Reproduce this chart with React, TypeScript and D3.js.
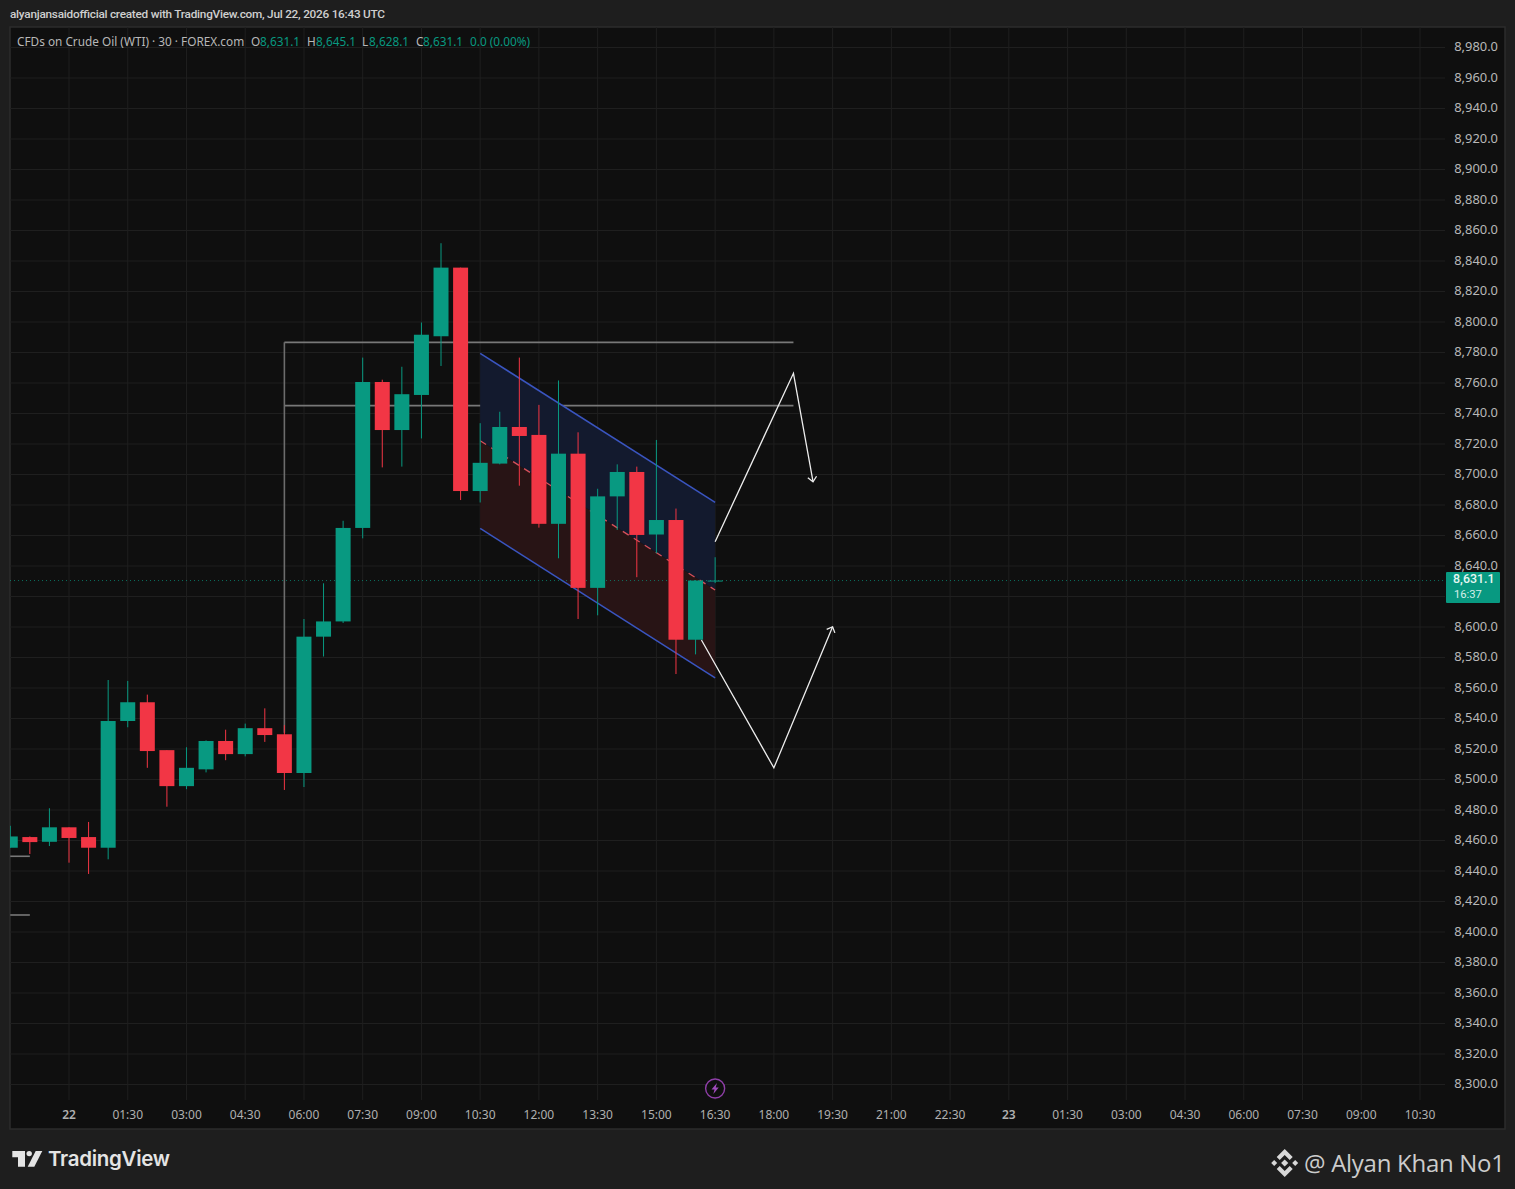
import React, { useEffect, useRef } from "react";
import * as d3 from "d3";

// bars are numbered from the "22" tick (00:00), one bar = 30 minutes
const firstBar = -3;
const opens = [8454.6, 8461.6, 8458.5, 8468, 8461.6, 8454.6, 8537.7, 8550, 8518.6, 8495, 8506, 8524.6, 8516, 8533, 8529, 8503.6, 8593, 8603, 8664.3, 8760, 8728.5, 8751.5, 8790, 8835, 8688.5, 8706.5, 8730.5, 8725.3, 8667, 8713, 8625, 8685, 8701, 8660, 8669.5, 8591, 8629.8];
const closes = [8462, 8458.3, 8468, 8461, 8454.6, 8537.7, 8550, 8518, 8495, 8507, 8524.6, 8516, 8533, 8528.5, 8503.6, 8593, 8603, 8664.3, 8760, 8728.5, 8752, 8791, 8835, 8688.5, 8707, 8730.5, 8724.6, 8667, 8713, 8625, 8685, 8701, 8659.7, 8669.5, 8591, 8629.8, 8629.8];
const highs = [8469, 8462, 8480.5, 8468, 8471.5, 8564.6, 8564, 8555, 8518.6, 8520.5, 8525, 8532, 8536, 8546, 8535, 8604.6, 8628, 8669, 8776, 8761.5, 8770, 8799, 8851, 8835, 8733, 8740.5, 8776, 8745, 8761, 8727, 8690, 8706, 8704.5, 8722, 8677, 8630, 8645.1];
const lows = [8454.6, 8450.5, 8455.7, 8444.8, 8437.4, 8447, 8533.6, 8507, 8481.5, 8493, 8504, 8512, 8514.5, 8524, 8492.5, 8494.4, 8580, 8602, 8657.5, 8704, 8704.5, 8723, 8770.5, 8682.6, 8681, 8706, 8692, 8664.5, 8644.4, 8604.6, 8607, 8663, 8632, 8647.7, 8568.5, 8581.4, 8628.1];

const priceTicks = d3.range(8300, 8981, 20);
const timeLabels = ["22", "01:30", "03:00", "04:30", "06:00", "07:30", "09:00", "10:30", "12:00", "13:30", "15:00", "16:30", "18:00", "19:30", "21:00", "22:30", "23", "01:30", "03:00", "04:30", "06:00", "07:30", "09:00", "10:30"];

const lastPrice = 8629.8;

// drawings, as [bar, price]
const levelTop = 8786;
const levelMid = 8744.5;
const levelStartBar = 11;
const levelEndBar = 37;
const verticalBar = 11;
const verticalFrom = 8786;
const verticalTo = 8530;
const stubLevels = [8449, 8410.5];
const channelUpper: [number, number][] = [[21, 8778.8], [33, 8681]];
const channelMiddle: [number, number][] = [[21, 8721.5], [33, 8623.6]];
const channelLower: [number, number][] = [[21, 8664], [33, 8566]];
const pathUp: [number, number][] = [[33, 8655.3], [37, 8765.7], [38, 8694.6]];
const pathDown: [number, number][] = [[32.3, 8590.8], [36, 8507], [39, 8599.5]];

const green = "#089981";
const red = "#f23645";
const font = "'Noto Sans', sans-serif";

export default function App() {
  const ref = useRef<SVGSVGElement>(null);

  useEffect(() => {
    const width = 1515;
    const height = 1189;
    const pane = { left: 10, top: 27, right: 1505, bottom: 1129 };
    const axisLeft = 1445;
    const axisTop = 1100;

    const x = d3.scaleLinear().domain([0, 69]).range([69, 1420]);
    const y = d3.scaleLinear().domain([8300, 8980]).range([1083.5, 46.5]);
    const line = d3
      .line<[number, number]>()
      .x((d) => x(d[0]))
      .y((d) => y(d[1]));

    const svg = d3.select(ref.current);
    svg.selectAll("*").remove();

    svg.append("rect").attr("width", width).attr("height", height).attr("fill", "#1e1e1e");
    svg
      .append("rect")
      .attr("x", pane.left)
      .attr("y", pane.top)
      .attr("width", pane.right - pane.left)
      .attr("height", pane.bottom - pane.top)
      .attr("fill", "#0f0f0f")
      .attr("stroke", "#2c2c2c")
      .attr("stroke-width", 1.5);

    svg
      .append("clipPath")
      .attr("id", "pane-clip")
      .append("rect")
      .attr("x", pane.left)
      .attr("y", pane.top)
      .attr("width", pane.right - pane.left)
      .attr("height", pane.bottom - pane.top);

    // grid, sits a pixel under the label centres
    const grid = svg.append("g").attr("stroke", "#1f1f1f").attr("stroke-width", 1);
    grid
      .selectAll("line.h")
      .data(priceTicks)
      .join("line")
      .attr("class", "h")
      .attr("x1", pane.left)
      .attr("x2", axisLeft)
      .attr("y1", (d) => y(d) + 1)
      .attr("y2", (d) => y(d) + 1);
    grid
      .selectAll("line.v")
      .data(timeLabels)
      .join("line")
      .attr("class", "v")
      .attr("x1", (_d, i) => x(i * 3))
      .attr("x2", (_d, i) => x(i * 3))
      .attr("y1", pane.top)
      .attr("y2", axisTop);

    const chart = svg.append("g").attr("clip-path", "url(#pane-clip)");

    // grey levels, under the candles
    const levels = chart.append("g").attr("stroke", "#787878").attr("stroke-width", 1.6).attr("fill", "none");
    levels
      .selectAll("line.level")
      .data([levelTop, levelMid])
      .join("line")
      .attr("class", "level")
      .attr("x1", x(levelStartBar))
      .attr("x2", x(levelEndBar))
      .attr("y1", (d) => y(d))
      .attr("y2", (d) => y(d));
    levels
      .append("line")
      .attr("x1", x(verticalBar))
      .attr("x2", x(verticalBar))
      .attr("y1", y(verticalFrom))
      .attr("y2", y(verticalTo))
      .attr("stroke", "#6c6c6c");
    levels
      .selectAll("line.stub")
      .data(stubLevels)
      .join("line")
      .attr("class", "stub")
      .attr("x1", x(firstBar))
      .attr("x2", x(firstBar + 1))
      .attr("y1", (d) => y(d))
      .attr("y2", (d) => y(d));

    // channel
    const area = (a: [number, number][], b: [number, number][]) => line([...a, ...[...b].reverse()]);
    chart.append("path").attr("d", area(channelUpper, channelMiddle)).attr("fill", "#131a2e");
    chart.append("path").attr("d", area(channelMiddle, channelLower)).attr("fill", "#281415");
    chart
      .append("path")
      .attr("d", line(channelMiddle))
      .attr("fill", "none")
      .attr("stroke", "#d8505a")
      .attr("stroke-width", 1.3)
      .attr("stroke-dasharray", "7 6");
    chart
      .selectAll("path.channel-edge")
      .data([channelUpper, channelLower])
      .join("path")
      .attr("class", "channel-edge")
      .attr("d", (d) => line(d))
      .attr("fill", "none")
      .attr("stroke", "#3a55c0")
      .attr("stroke-width", 1.5);

    // last price line
    chart
      .append("line")
      .attr("x1", pane.left)
      .attr("x2", axisLeft)
      .attr("y1", y(lastPrice))
      .attr("y2", y(lastPrice))
      .attr("stroke", green)
      .attr("stroke-width", 1)
      .attr("stroke-opacity", 0.7)
      .attr("stroke-dasharray", "1 3");

    // candles
    const bars = opens.map((o, i) => ({
      bar: firstBar + i,
      o,
      c: closes[i],
      h: highs[i],
      l: lows[i],
    }));
    const color = (d: { o: number; c: number }) => (d.c >= d.o ? green : red);
    const bodyWidth = 15;
    const candles = chart.append("g").selectAll("g").data(bars).join("g");
    candles
      .append("line")
      .attr("x1", (d) => x(d.bar))
      .attr("x2", (d) => x(d.bar))
      .attr("y1", (d) => y(d.h))
      .attr("y2", (d) => y(d.l))
      .attr("stroke", color)
      .attr("stroke-width", 1);
    candles
      .append("rect")
      .attr("x", (d) => x(d.bar) - bodyWidth / 2)
      .attr("width", bodyWidth)
      .attr("y", (d) => y(Math.max(d.o, d.c)))
      .attr("height", (d) => Math.max(1, Math.abs(y(d.o) - y(d.c))))
      .attr("fill", color);

    // white projected paths
    const arrowHead = (pts: [number, number][]) => {
      const [a, b] = pts.slice(-2);
      const x1 = x(a[0]);
      const y1 = y(a[1]);
      const x2 = x(b[0]);
      const y2 = y(b[1]);
      const angle = Math.atan2(y2 - y1, x2 - x1);
      const size = 6.5;
      const wing = (t: number) => [x2 - size * Math.cos(angle + t), y2 - size * Math.sin(angle + t)];
      const [ax, ay] = wing(0.75);
      const [bx, by] = wing(-0.75);
      return `M${ax},${ay}L${x2},${y2}L${bx},${by}`;
    };
    const paths = chart.append("g").attr("fill", "none").attr("stroke", "#ededed").attr("stroke-width", 1.3);
    [pathUp, pathDown].forEach((pts) => {
      paths.append("path").attr("d", line(pts));
      paths.append("path").attr("d", arrowHead(pts));
    });

    // price axis
    svg
      .append("g")
      .attr("font-family", font)
      .attr("font-size", 12.9)
      .attr("fill", "#b8b8b8")
      .attr("text-anchor", "end")
      .selectAll("text")
      .data(priceTicks)
      .join("text")
      .attr("x", 1498)
      .attr("y", (d) => y(d))
      .attr("dy", "0.35em")
      .text((d) => d3.format(",.1f")(d));

    // time axis
    svg
      .append("g")
      .attr("font-family", font)
      .attr("font-size", 12)
      .attr("fill", "#b0b0b0")
      .attr("text-anchor", "middle")
      .selectAll("text")
      .data(timeLabels)
      .join("text")
      .attr("x", (_d, i) => x(i * 3))
      .attr("y", 1114.5)
      .attr("dy", "0.35em")
      .attr("font-weight", (d) => (d.length === 2 ? 600 : 400))
      .text((d) => d);

    // last price tag
    svg.append("rect").attr("x", 1446).attr("y", 572).attr("width", 54).attr("height", 31).attr("rx", 1).attr("fill", green);
    svg
      .append("text")
      .attr("x", 1494.5)
      .attr("y", 583)
      .attr("text-anchor", "end")
      .attr("font-family", "Roboto, sans-serif")
      .attr("font-size", 12.4)
      .attr("font-weight", 500)
      .attr("fill", "#e6f7f3")
      .text("8,631.1");
    svg
      .append("text")
      .attr("x", 1454)
      .attr("y", 598)
      .attr("font-family", "Roboto, sans-serif")
      .attr("font-size", 11.2)
      .attr("fill", "#d6efe9")
      .text("16:37");

    // lightning badge on the time axis
    const badge = svg.append("g").attr("transform", `translate(${x(33)},1088.5)`);
    badge.append("circle").attr("r", 9.5).attr("fill", "#0f0f0f").attr("stroke", "#8f3fa8").attr("stroke-width", 1.4);
    badge.append("path").attr("d", "M1.8,-5.5L-3.6,1L-0.6,1L-1.8,5.5L3.6,-1L0.6,-1Z").attr("fill", "#a04bbd");

    // header and legend
    svg
      .append("text")
      .attr("x", 10)
      .attr("y", 18)
      .attr("font-family", "Roboto, sans-serif")
      .attr("font-size", 11.8)
      .attr("font-weight", 500)
      .attr("fill", "#cfcfcf")
      .attr("textLength", 375)
      .text("alyanjansaidofficial created with TradingView.com, Jul 22, 2026 16:43 UTC");

    const legend: [number, string, string][] = [
      [17, "CFDs on Crude Oil (WTI) · 30 · FOREX.com", "#b8b8b8"],
      [251, "O", "#b8b8b8"],
      [260, "8,631.1", green],
      [307, "H", "#b8b8b8"],
      [316, "8,645.1", green],
      [362, "L", "#b8b8b8"],
      [369, "8,628.1", green],
      [416, "C", "#b8b8b8"],
      [423, "8,631.1", green],
      [470, "0.0 (0.00%)", green],
    ];
    svg
      .append("g")
      .attr("font-family", font)
      .attr("font-size", 11.8)
      .selectAll("text")
      .data(legend)
      .join("text")
      .attr("x", (d) => d[0])
      .attr("y", 45.5)
      .attr("fill", (d) => d[2])
      .text((d) => d[1]);

    // TradingView mark
    const logo = svg.append("g").attr("fill", "#e4e4e4");
    logo.append("path").attr("d", "M12.3,1151H25V1166.7H18V1157.3H12.3Z");
    logo.append("circle").attr("cx", 29.2).attr("cy", 1153.6).attr("r", 2.7);
    logo.append("path").attr("d", "M35.7,1151H42.3L34.3,1166.7H27.7Z");
    svg
      .append("text")
      .attr("x", 48)
      .attr("y", 1166)
      .attr("font-family", "Inter, sans-serif")
      .attr("font-size", 20.5)
      .attr("font-weight", 600)
      .attr("letter-spacing", -0.3)
      .attr("fill", "#e4e4e4")
      .text("TradingView");

    // Binance mark and signature
    const mark = svg.append("g").attr("transform", "translate(1284.7,1163)").attr("fill", "#d8d8d8");
    mark.append("path").attr("d", "M0,-3.6L3.6,0L0,3.6L-3.6,0Z");
    mark.append("path").attr("d", "M-10.5,-3L-7.5,0L-10.5,3L-13.5,0Z");
    mark.append("path").attr("d", "M10.5,-3L13.5,0L10.5,3L7.5,0Z");
    mark.append("path").attr("d", "M0,-14L8,-6L5,-3L0,-8L-5,-3L-8,-6Z");
    mark.append("path").attr("d", "M0,14L8,6L5,3L0,8L-5,3L-8,6Z");
    svg
      .append("text")
      .attr("x", 1304)
      .attr("y", 1171.5)
      .attr("font-family", "'Open Sans', sans-serif")
      .attr("font-size", 24)
      .attr("fill", "#cccccc")
      .attr("textLength", 201)
      .text("@ Alyan Khan No1");
  }, []);

  return (
    <>
      <style>{"body{margin:0;background:#1e1e1e}"}</style>
      <svg ref={ref} width={1515} height={1189} style={{ display: "block" }} />
    </>
  );
}
